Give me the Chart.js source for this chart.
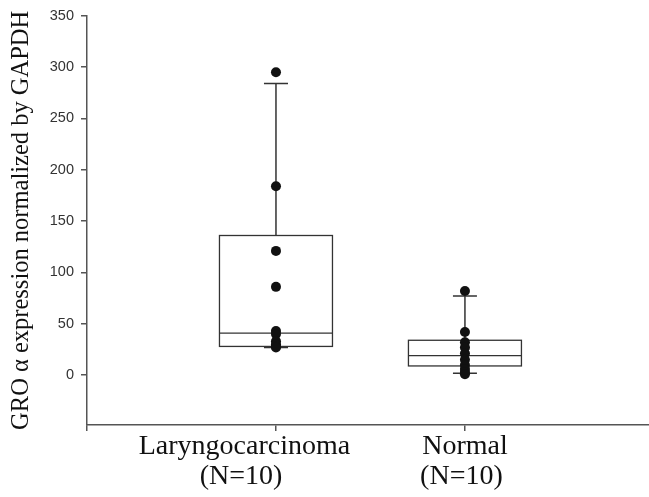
<!DOCTYPE html>
<html>
<head>
<meta charset="utf-8">
<script src="https://cdn.jsdelivr.net/npm/chart.js@4/dist/chart.umd.min.js"></script>
<style>
  html, body { margin: 0; padding: 0; background: #fff; }
  #wrap { width: 649px; height: 497px; position: relative; }
</style>
</head>
<body>
<div id="wrap"><canvas id="c" width="649" height="497"></canvas></div>
<script>
// ---- data ----
const categories = ['Laryngocarcinoma', 'Normal'];
const groupLabels = [
  ['Laryngocarcinoma         ', '(N=10)          '],
  ['Normal', '(N=10) ']
];
const yTicks = [0, 50, 100, 150, 200, 250, 300, 350];
const laryngoPoints = [295, 184, 121, 86, 43, 40, 33, 30, 28, 27];
const normalPoints = [82, 42, 32, 27, 21, 15, 10, 6, 3, 1];
// box statistics: [whiskerLow, q1, median, q3, whiskerHigh]
const laryngoBox = [27, 28, 41, 136, 284];
const normalBox = [2, 9, 19, 34, 77];

const boxes = [laryngoBox, normalBox];
const groupPoints = [laryngoPoints, normalPoints];

const scatterData = [];
groupPoints.forEach((pts, gi) => pts.forEach(v => scatterData.push({ x: gi + 1, y: v })));

const boxPlugin = {
  id: 'boxes',
  beforeDatasetsDraw(chart) {
    const { ctx, scales: { x, y } } = chart;
    const boxHalf = 56.5, capHalf = 12;
    ctx.save();
    ctx.strokeStyle = '#333';
    boxes.forEach((b, i) => {
      const cx = x.getPixelForValue(i + 1);
      const [lo, q1, med, q3, hi] = b.map(v => y.getPixelForValue(v));
      ctx.lineWidth = 1.5;
      ctx.beginPath();
      ctx.moveTo(cx, q3); ctx.lineTo(cx, hi);
      ctx.moveTo(cx, q1); ctx.lineTo(cx, lo);
      ctx.moveTo(cx - capHalf, hi); ctx.lineTo(cx + capHalf, hi);
      ctx.moveTo(cx - capHalf, lo); ctx.lineTo(cx + capHalf, lo);
      ctx.stroke();
      ctx.lineWidth = 1.3;
      ctx.fillStyle = '#fff';
      ctx.fillRect(cx - boxHalf, q3, boxHalf * 2, q1 - q3);
      ctx.strokeRect(cx - boxHalf, q3, boxHalf * 2, q1 - q3);
      ctx.beginPath();
      ctx.moveTo(cx - boxHalf, med); ctx.lineTo(cx + boxHalf, med);
      ctx.stroke();
    });
    ctx.restore();
  }
};

new Chart(document.getElementById('c'), {
  type: 'scatter',
  data: {
    datasets: [{
      data: scatterData,
      pointRadius: 5,
      pointHoverRadius: 5,
      backgroundColor: '#111',
      borderColor: '#111',
      borderWidth: 0
    }]
  },
  options: {
    responsive: false,
    animation: false,
    layout: { autoPadding: false, padding: { top: 14, right: 0, left: 0, bottom: 0 } },
    plugins: { legend: { display: false }, tooltip: { enabled: false } },
    scales: {
      x: {
        type: 'linear',
        min: 0,
        max: 2.974,
        afterBuildTicks: s => { s.ticks = [0, 1, 2].map(v => ({ value: v })); },
        afterFit: s => { s.height = 72; s.paddingRight = 0; s.paddingLeft = 0; },
        ticks: {
          autoSkip: false,
          maxRotation: 0,
          color: '#111',
          padding: 1,
          font: { family: 'Liberation Serif', size: 28, lineHeight: 1.07 },
          callback: v => (v >= 1 && v <= categories.length) ? groupLabels[v - 1] : ''
        },
        grid: { drawOnChartArea: false, drawTicks: true, tickLength: 6, color: '#555', lineWidth: 1.5 },
        border: { color: '#555', width: 1.5 }
      },
      y: {
        min: -48.5,
        max: 350,
        afterBuildTicks: s => { s.ticks = yTicks.map(v => ({ value: v })); },
        afterFit: s => { s.width = 87; },
        ticks: {
          color: '#333',
          padding: 7,
          font: { family: 'Liberation Sans', size: 14.5 }
        },
        title: {
          display: true,
          text: 'GRO α expression normalized by GAPDH',
          color: '#111',
          padding: { top: 7, bottom: 4 },
          font: { family: 'Liberation Serif', size: 24.5 }
        },
        grid: { drawOnChartArea: false, drawTicks: true, tickLength: 6, color: '#555', lineWidth: 1.5 },
        border: { color: '#555', width: 1.5 }
      }
    }
  },
  plugins: [boxPlugin]
});
</script>
</body>
</html>
